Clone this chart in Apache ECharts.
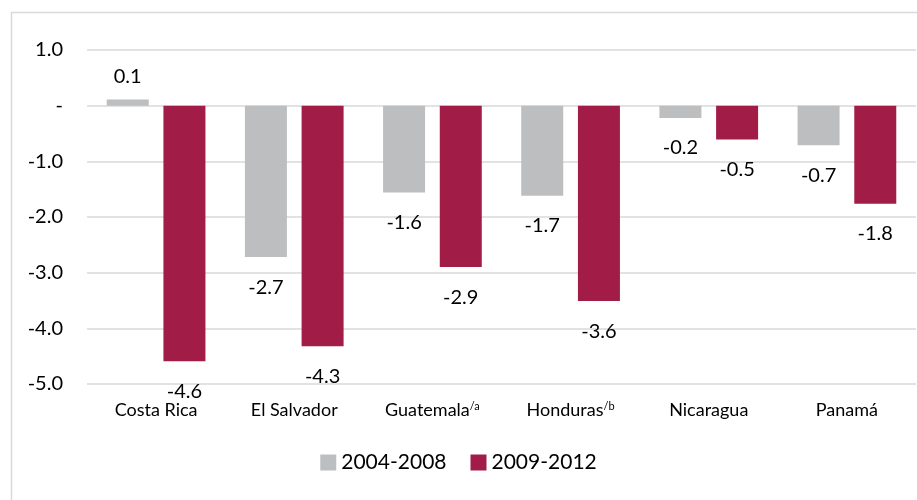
<!DOCTYPE html>
<html>
<head>
<meta charset="utf-8">
<script src="https://cdn.jsdelivr.net/npm/echarts@6/dist/echarts.min.js"></script>
<style>
html,body{margin:0;padding:0;background:#fff;}
#c{width:917px;height:500px;}
</style>
</head>
<body>
<div id="c"></div>
<script>
const categories = ['Costa Rica', 'El Salvador', 'Guatemala', 'Honduras', 'Nicaragua', 'Panamá'];
const footnotes = ['', '', '/a', '/b', '', ''];
const seriesNames = ['2004-2008', '2009-2012'];
const values2004 = [0.11, -2.72, -1.56, -1.62, -0.22, -0.71];
const values2009 = [-4.59, -4.32, -2.90, -3.51, -0.61, -1.76];
const labels2004 = ['0.1', '-2.7', '-1.6', '-1.7', '-0.2', '-0.7'];
const labels2009 = ['-4.6', '-4.3', '-2.9', '-3.6', '-0.5', '-1.8'];
const yMin = -5, yMax = 1, yStep = 1;

const FONT = 'Lato, "Open Sans", sans-serif';
const colors = ['#BDBEC0', '#A11D48'];

function items(vals, labs) {
  return vals.map((v, i) => ({
    value: v,
    label: {
      position: v >= 0 ? 'top' : 'bottom',
      distance: v >= 0 ? 13 : 20,
      formatter: labs[i]
    }
  }));
}

const chart = echarts.init(document.getElementById('c'), null, {renderer: 'canvas'});
chart.setOption({
  animation: false,
  backgroundColor: '#fff',
  color: colors,
  graphic: [{
    type: 'rect', left: 9, top: 10, z: -1,
    shape: {width: 930, height: 520},
    style: {fill: 'none', stroke: '#D9D9D9', lineWidth: 1.5}
  }],
  grid: {left: 87, right: 1, top: 50, bottom: 116, containLabel: false},
  legend: {
    data: seriesNames,
    bottom: 22, left: 'center',
    itemWidth: 16, itemHeight: 16, itemGap: 24,
    icon: 'rect',
    textStyle: {fontFamily: FONT, fontSize: 21, color: '#000'}
  },
  xAxis: {
    type: 'category',
    data: categories.map((c, i) => footnotes[i] ? c + '{sup|' + footnotes[i] + '}' : c),
    axisLine: {show: false},
    axisTick: {show: false},
    axisLabel: {
      interval: 0,
      fontFamily: FONT, fontSize: 18, color: '#000', margin: 17,
      rich: {sup: {fontFamily: FONT, fontSize: 11, color: '#000', verticalAlign: 'top', padding: [0, 0, 8, 0]}}
    }
  },
  yAxis: {
    type: 'value', min: yMin, max: yMax, interval: yStep,
    axisLine: {show: false},
    axisTick: {show: false},
    splitLine: {lineStyle: {color: '#D9D9D9', width: 1.5}},
    axisLabel: {
      fontFamily: FONT, fontSize: 20, color: '#000', margin: 24,
      formatter: v => Math.abs(v) < 1e-9 ? '-' : v.toFixed(1)
    }
  },
  series: [
    {
      name: seriesNames[0], type: 'bar', barWidth: 42, barGap: '35%',
      data: items(values2004, labels2004),
      label: {show: true, fontFamily: FONT, fontSize: 20, color: '#000'}
    },
    {
      name: seriesNames[1], type: 'bar', barWidth: 42, barGap: '35%',
      data: items(values2009, labels2009),
      label: {show: true, fontFamily: FONT, fontSize: 20, color: '#000'}
    }
  ]
});
</script>
</body>
</html>
